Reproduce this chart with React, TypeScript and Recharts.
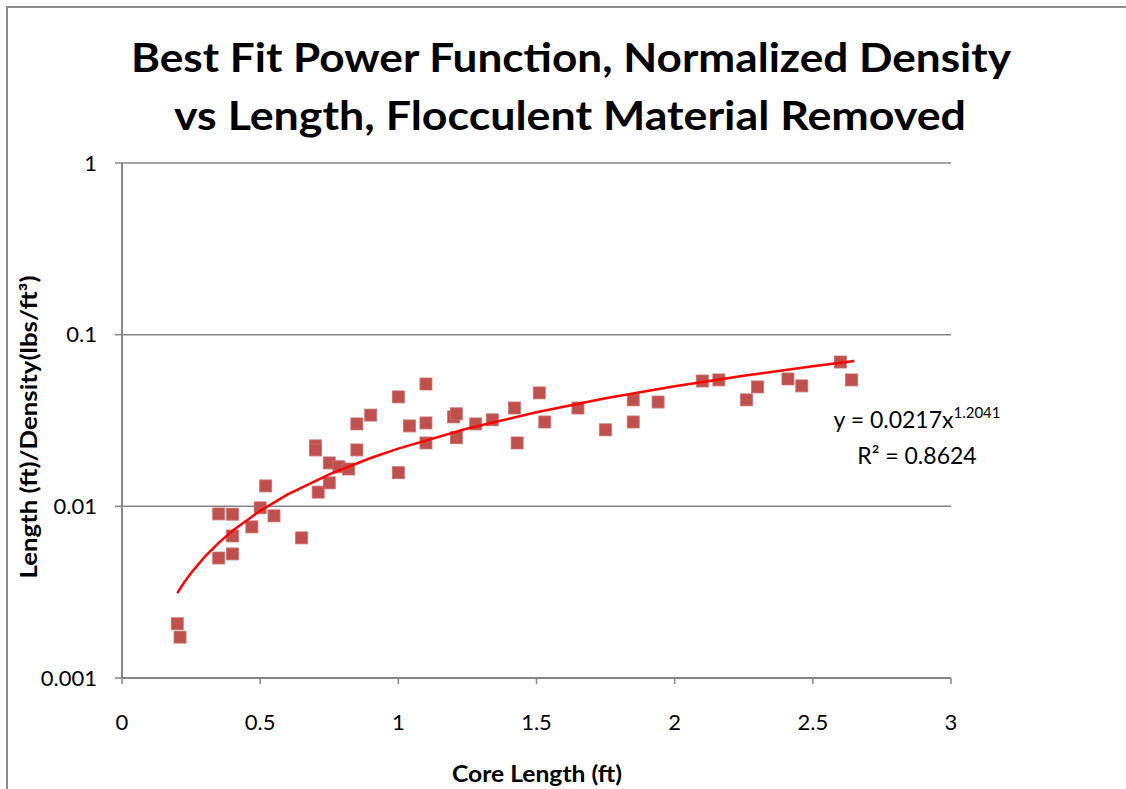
import React from 'react';
import { ScatterChart, Scatter, XAxis, YAxis, CartesianGrid } from 'recharts';

const coreLength = [0.2, 0.21, 0.35, 0.35, 0.4, 0.4, 0.4, 0.47, 0.5, 0.52, 0.55, 0.65, 0.7, 0.7, 0.71, 0.75, 0.75, 0.785, 0.82, 0.85, 0.85, 0.9, 1.0, 1.0, 1.04, 1.1, 1.1, 1.1, 1.2, 1.21, 1.21, 1.28, 1.34, 1.42, 1.43, 1.51, 1.53, 1.65, 1.75, 1.85, 1.85, 1.94, 2.1, 2.16, 2.26, 2.3, 2.41, 2.46, 2.6, 2.64];
const normDensity = [0.00207, 0.00173, 0.00903, 0.005, 0.009, 0.00672, 0.00528, 0.00759, 0.0098, 0.01315, 0.0088, 0.00655, 0.0225, 0.0213, 0.0121, 0.0179, 0.0137, 0.017, 0.0165, 0.0302, 0.0213, 0.034, 0.0434, 0.0157, 0.0294, 0.0516, 0.0306, 0.0234, 0.0332, 0.0346, 0.0251, 0.0302, 0.0319, 0.0374, 0.0234, 0.0458, 0.031, 0.0374, 0.0279, 0.0417, 0.031, 0.0405, 0.0537, 0.0545, 0.0417, 0.0496, 0.0552, 0.0503, 0.0693, 0.0545];

// Trendline points
const trendX = [0.2, 0.225, 0.25, 0.3, 0.35, 0.4, 0.5, 0.6, 0.75, 0.9, 1.0, 1.25, 1.5, 1.75, 2.0, 2.25, 2.5, 2.65];
const trendY = [0.00312, 0.0036, 0.00409, 0.00509, 0.00613, 0.0072, 0.00942, 0.01173, 0.01535, 0.01912, 0.0217, 0.02839, 0.03536, 0.04257, 0.05, 0.05761, 0.06541, 0.07016];

const xTicks = [0, 0.5, 1, 1.5, 2, 2.5, 3];
const xTickLabels = ['0', '0.5', '1', '1.5', '2', '2.5', '3'];
const yTicks = [0.001, 0.01, 0.1, 1];
const yTickLabels = ['0.001', '0.01', '0.1', '1'];

const titleLines = ['Best Fit Power Function, Normalized Density', 'vs Length, Flocculent Material Removed'];
const xTitle = 'Core Length (ft)';
const yTitle = 'Length (ft)/Density(lbs/ft³)';
const eqMain = 'y = 0.0217x';
const eqExp = '1.2041';
const eqR2 = 'R² = 0.8624';

const points = coreLength.map((x, i) => ({ x, y: normDensity[i] }));
const trend = trendX.map((x, i) => ({ x, y: trendY[i] }));

const FONT = 'Lato, "Open Sans", sans-serif';
const GRAY = '#868686';

const Square = (props: any) => {
  const { cx, cy } = props;
  if (cx == null || cy == null) return <g />;
  return <rect x={cx - 6} y={cy - 6} width={12} height={12} fill="#C0504D" stroke="#C9706D" strokeWidth={0.8} />;
};

const NoDot = () => <g />;

export default function App() {
  return (
    <div style={{ position: 'absolute', left: 0, top: 0, width: 1126, height: 789, background: '#fff', overflow: 'hidden' }}>
      <ScatterChart width={1126} height={789} margin={{ top: 163, right: 175, bottom: 61, left: 62 }}>
        <CartesianGrid horizontal vertical={false} stroke={GRAY} strokeWidth={1.5} />
        <XAxis
          type="number"
          dataKey="x"
          domain={[0, 3]}
          ticks={xTicks}
          tickFormatter={(v: number) => xTickLabels[xTicks.indexOf(v)] ?? String(v)}
          height={50}
          axisLine={{ stroke: GRAY, strokeWidth: 2 }}
          tickLine={{ stroke: GRAY, strokeWidth: 1.5 }}
          tickSize={6}
          tickMargin={30}
          tick={{ fill: '#000', fontSize: 22, fontFamily: FONT }}
          allowDataOverflow
        />
        <YAxis
          type="number"
          dataKey="y"
          scale="log"
          domain={[0.001, 1]}
          ticks={yTicks}
          tickFormatter={(v: number) => yTickLabels[yTicks.indexOf(v)] ?? String(v)}
          width={60}
          axisLine={{ stroke: GRAY, strokeWidth: 2 }}
          tickLine={{ stroke: GRAY, strokeWidth: 1.5 }}
          tickSize={7}
          tickMargin={18}
          tick={{ fill: '#000', fontSize: 22, fontFamily: FONT }}
          allowDataOverflow
        />
        <Scatter data={points} shape={Square} isAnimationActive={false} />
        <Scatter
          data={trend}
          shape={NoDot}
          line={{ stroke: '#FF0000', strokeWidth: 2.5 }}
          lineType="joint"
          isAnimationActive={false}
        />
      </ScatterChart>
      <svg width={1126} height={789} style={{ position: 'absolute', left: 0, top: 0, pointerEvents: 'none' }}>
        <path d="M7,789 L7,7 L1126,7" fill="none" stroke="#8c8c8c" strokeWidth={2} />
        <text x={571} y={72} textAnchor="middle" fontFamily={FONT} fontWeight={700} fontSize={41} fill="#000" textLength={880} lengthAdjust="spacingAndGlyphs">{titleLines[0]}</text>
        <text x={570} y={130} textAnchor="middle" fontFamily={FONT} fontWeight={700} fontSize={41} fill="#000" textLength={792} lengthAdjust="spacingAndGlyphs">{titleLines[1]}</text>
        <text x={537} y={782} textAnchor="middle" fontFamily={FONT} fontWeight={700} fontSize={22} fill="#000" textLength={170} lengthAdjust="spacingAndGlyphs">{xTitle}</text>
        <text x={37} y={427} textAnchor="middle" fontFamily={FONT} fontWeight={700} fontSize={22} fill="#000" transform="rotate(-90 37 427)" textLength={303} lengthAdjust="spacingAndGlyphs">{yTitle}</text>
        <text x={917} y={428} textAnchor="middle" fontFamily={FONT} fontSize={23} fill="#000">
          {eqMain}
          <tspan fontSize={15} dy={-10}>{eqExp}</tspan>
        </text>
        <text x={917} y={464} textAnchor="middle" fontFamily={FONT} fontSize={23} fill="#000">{eqR2}</text>
      </svg>
    </div>
  );
}
